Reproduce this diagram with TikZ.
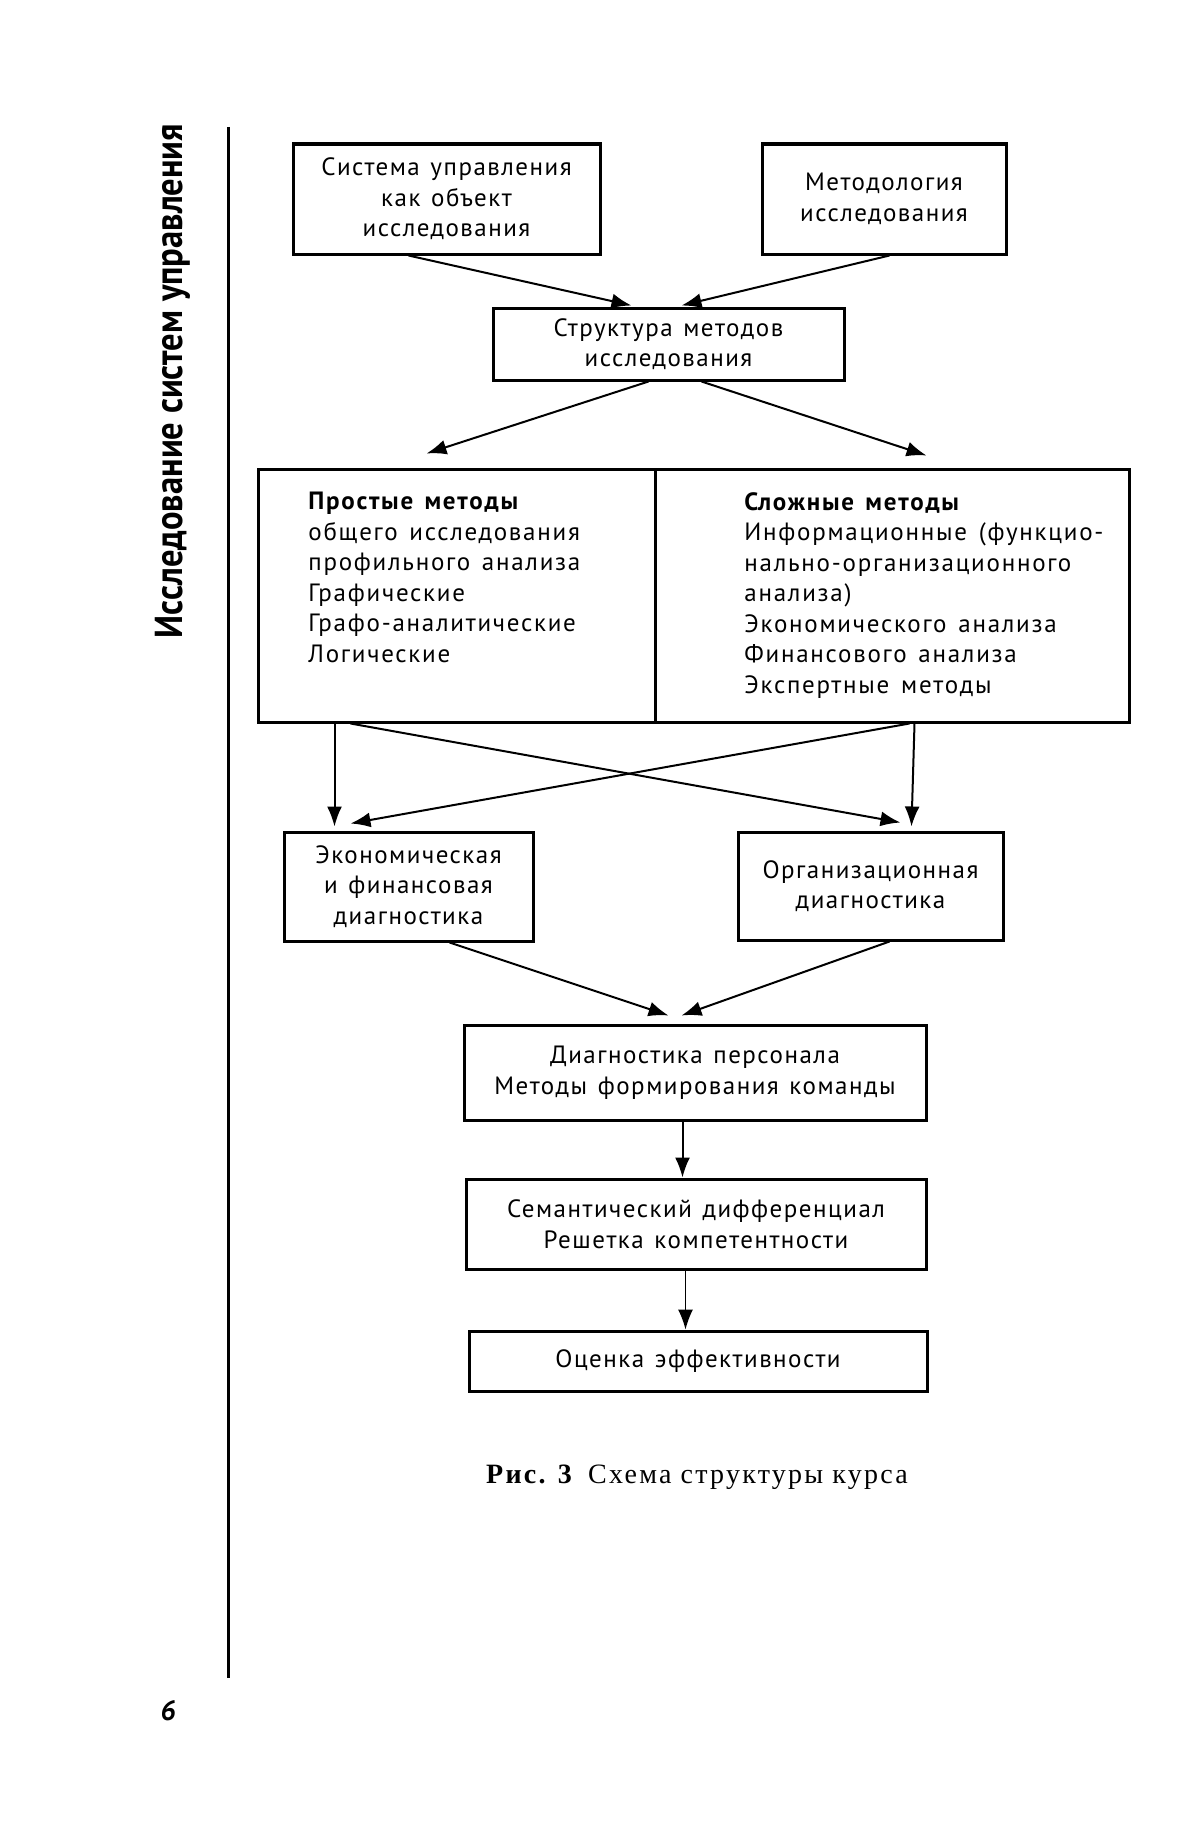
\documentclass[tikz,border=0pt]{standalone}
\usepackage{fontspec}
\setmainfont{PT Sans}
\newfontfamily\boxfont[LetterSpace=6,WordSpace=1.3]{PT Sans}
\newfontfamily\blkfont[LetterSpace=7,WordSpace=1.4]{PT Sans}
\newfontfamily\capfont[LetterSpace=8]{Liberation Serif}
\newfontfamily\titlefont{PT Sans}
\usetikzlibrary{arrows.meta,calc}
\begin{document}
\begin{tikzpicture}[x=0.5pt,y=-0.5pt,
  box/.style={draw,line width=1.5pt,inner sep=0pt,align=center,
    font=\boxfont\fontsize{12.5}{15.25}\selectfont},
  blk/.style={inner sep=0pt,anchor=north west,align=left,
    font=\blkfont\fontsize{12.5}{15.25}\selectfont},
  arr/.style={-{Latex[length=10pt,width=7.5pt]},line width=1pt},
  thinarr/.style={-{Latex[length=10pt,width=7.5pt]},line width=0.7pt}]
\useasboundingbox (0,0) rectangle (1200,1841);

% side title, rule and page number
\node[rotate=90,inner sep=0pt,font=\titlefont\bfseries\fontsize{19.5}{22}\selectfont] (title) at (173,381) {\scalebox{0.885}[1]{Исследование систем управления}};
\coordinate (rtop) at (228,127);
\coordinate (rbot) at (228,1678);
\draw[line width=1.5pt] (rtop) -- (rbot);
\node[inner sep=0pt,font=\titlefont\bfseries\itshape\fontsize{14}{16}\selectfont] (pnum) at (168,1711) {6};

% boxes
\node[box,minimum width=153.5pt,minimum height=55pt] (b1) at (446.5,199) {Система управления\\как объект\\исследования};
\node[box,minimum width=122pt,minimum height=55pt] (b2) at (884,199) {Методология\\исследования};
\node[box,minimum width=175.5pt,minimum height=36pt] (b3) at (668.5,344) {Структура методов\\исследования};

\node[box,minimum width=198.5pt,minimum height=126.5pt] (L) at (456.5,595.5) {};
\node[box,minimum width=237pt,minimum height=126.5pt] (R) at (892,595.5) {};
\node[blk] (Lt) at (308,492) {\textbf{Простые методы}\\общего исследования\\профильного анализа\\Графические\\Графо-аналитические\\Логические};
\node[blk] (Rt) at (744,492) {\textbf{Сложные методы}\\Информационные (функцио-\\нально-организационного\\анализа)\\Экономического анализа\\Финансового анализа\\Экспертные методы};

\node[box,minimum width=124.5pt,minimum height=54.5pt] (ec) at (408.5,886.5) {Экономическая\\и финансовая\\диагностика};
\node[box,minimum width=132.5pt,minimum height=54pt] (org) at (870.5,886) {Организационная\\диагностика};
\node[box,minimum width=231pt,minimum height=47.5pt] (dg) at (695,1072.5) {Диагностика персонала\\Методы формирования команды};
\node[box,minimum width=230pt,minimum height=45pt] (sem) at (696,1224) {Семантический дифференциал\\Решетка компетентности};
\node[box,minimum width=229pt,minimum height=30pt] (ev) at (698,1361) {Оценка эффективности};

\node[inner sep=0pt,font=\capfont\fontsize{14}{16}\selectfont] (cap) at (697,1477) {\textbf{Рис. 3}\enspace Схема структуры курса};

% connectors
\draw[arr] ($(b1.south west)+(117,0)$) -- ($(b3.north west)+(140,-1)$);
\draw[arr] ($(b2.south west)+(129,0)$) -- ($(b3.north west)+(190,-1)$);
\draw[arr] ($(b3.south west)+(157,0)$) -- ($(L.north west)+(170,-14)$);
\draw[arr] ($(b3.south west)+(210,0)$) -- ($(R.north west)+(273,-12)$);

\draw[arr] ($(L.south west)+(78,0)$) -- ($(ec.north west)+(52,-4)$);
\draw[arr] ($(L.south west)+(94,0)$) -- ($(org.north west)+(164,-8)$);
\draw[arr] ($(R.south east)+(-221,0)$) -- ($(ec.north west)+(68,-7)$);
\draw[arr] ($(R.south east)+(-216,0)$) -- ($(org.north west)+(175,-4)$);

\draw[arr] ($(ec.south west)+(167,0)$) -- ($(dg.north west)+(206,-8)$);
\draw[arr] ($(org.south west)+(153,0)$) -- ($(dg.north west)+(219,-8)$);
\draw[arr] ($(dg.south west)+(220,0)$) -- ($(sem.north west)+(218,0)$);
\draw[thinarr] ($(sem.south west)+(221,0)$) -- ($(ev.north west)+(218,0)$);
\end{tikzpicture}
\end{document}
